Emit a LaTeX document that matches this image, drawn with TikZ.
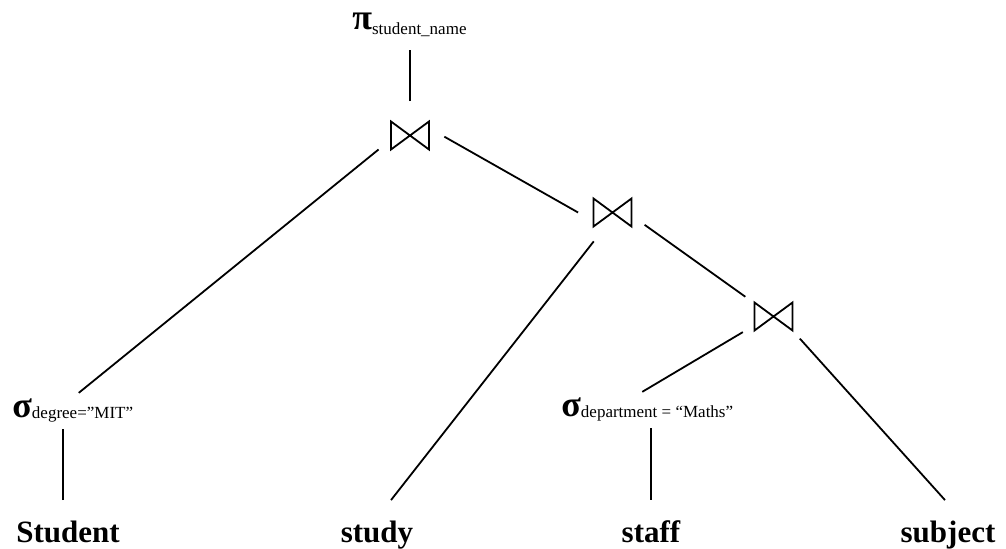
\documentclass[tikz,border=0pt]{standalone}
\usepackage{fontspec}
\setmainfont{Liberation Serif}
\usetikzlibrary{positioning}
\newcommand{\oplabel}[3][0.5pt]{{\fontsize{18}{18}\selectfont\bfseries #2}\raisebox{-#1}{\fontsize{8.5}{10}\selectfont #3}}
\tikzset{
  joinop/.style={circle,minimum size=34pt,inner sep=0pt,
    path picture={\draw[line width=0.9pt] ([shift={(-9.5pt,7pt)}]path picture bounding box.center)
      -- ++(19pt,-14pt) -- ++(0pt,14pt) -- ++(-19pt,-14pt) -- cycle;}},
  relop/.style={anchor=base west,inner xsep=0pt,inner ysep=3pt},
  leaf/.style={anchor=base,font=\fontsize{15.5}{19}\selectfont\bfseries,inner xsep=1pt,inner ysep=0pt,outer ysep=10.7pt},
  treeedge/.style={line width=0.9pt}
}
\begin{document}
\begin{tikzpicture}[x=0.5pt,y=-0.5pt]
    \useasboundingbox (0,0) rectangle (1006,549);
    % operators
    \node[relop] (proj) at (352,30) {\oplabel[2.5pt]{π}{student\_name}};
    \node[joinop] (j1) at (410,135.5) {};
    \node[joinop] (j2) at (612.5,212.5) {};
    \node[joinop] (j3) at (773.5,316.5) {};
    \node[relop] (sel1) at (12,418) {\oplabel{σ}{degree=”MIT”}};
    \node[relop] (sel2) at (561,417) {\oplabel{σ}{department = “Maths”}};
    % relations
    \node[leaf] (stud) at (68,543) {Student};
    \node[leaf] (study) at (377,543) {study};
    \node[leaf] (staff) at (651,543) {staff};
    \node[leaf] (subj) at (948,543) {subject};

    \draw[treeedge,shorten >=3pt] (j1.90) -- (j1.90 |- proj.south);
    \draw[treeedge] (j1.204) -- ([xshift=3pt]sel1.north);
    \draw[treeedge] (j1.358) -- (j2.west);
    \draw[treeedge] (j2.237) -- ([xshift=7pt]study.north);
    \draw[treeedge] (j2.339) -- (j3.145);
    \draw[treeedge] (j3.207) -- ([xshift=-2.5pt]sel2.north);
    \draw[treeedge] (j3.320) -- ([xshift=-1.5pt]subj.north);
    \draw[treeedge] ([xshift=-2.5pt]stud.north) -- ([xshift=-2.5pt]stud.north |- sel1.south);
    \draw[treeedge] (staff.north) -- (staff.north |- sel2.south);
\end{tikzpicture}
\end{document}
